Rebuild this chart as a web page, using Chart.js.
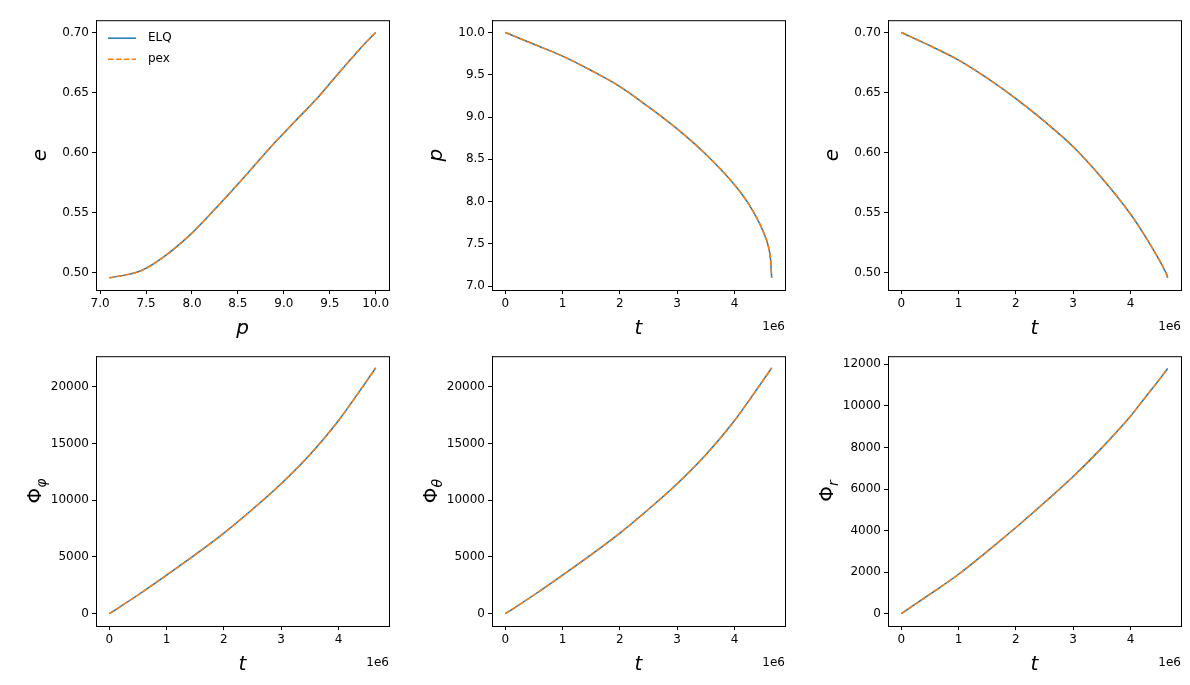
<!DOCTYPE html>
<html><head><meta charset="utf-8">
<script src="https://cdn.jsdelivr.net/npm/chart.js@4/dist/chart.umd.min.js"></script>
<style>
body{margin:0;background:#fff;width:1190px;height:685px;position:relative;overflow:hidden}
canvas{position:absolute}
</style></head><body>
<script>
// time in units of 1e6
const tVals = [0, 0.5, 1, 1.5, 2, 2.5, 3, 3.5, 4, 4.25, 4.5, 4.6, 4.63, 4.65];
const pVals = [10, 9.86, 9.72, 9.55, 9.36, 9.12, 8.86, 8.56, 8.2, 7.97, 7.65, 7.45, 7.32, 7.1];
const eVals = [0.700, 0.689, 0.677, 0.662, 0.645, 0.626, 0.605, 0.579, 0.549, 0.531, 0.511, 0.502, 0.499, 0.496];
const phiPhiVals = [0, 1650, 3400, 5200, 7100, 9200, 11450, 14000, 17000, 18750, 20550, 21280, 21500, 21650];
const phiThetaVals = [0, 1650, 3400, 5200, 7100, 9200, 11450, 14000, 17000, 18750, 20550, 21280, 21500, 21650];
const phiRVals = [0, 940, 1900, 3000, 4150, 5350, 6600, 7980, 9500, 10380, 11250, 11620, 11730, 11800];
const seriesNames = ['ELQ', 'pex'];

const tTicks = [0, 1, 2, 3, 4];
const pTicks = [7.0, 7.5, 8.0, 8.5, 9.0, 9.5, 10.0];
const eTicks = [0.50, 0.55, 0.60, 0.65, 0.70];
const phiTicks = [0, 5000, 10000, 15000, 20000];
const phiRTicks = [0, 2000, 4000, 6000, 8000, 10000, 12000];

const font = 'DejaVu Sans';
const cols = [[96, 389], [492, 785], [888, 1181]];
const rows = [[10, 290], [346, 626]];

function pts(xs, ys) { return xs.map((x, i) => ({x: x, y: ys[i]})); }

// panel box, math axis labels, 1e6 offset text, legend
const decoPlugin = {
  id: 'deco',
  afterDraw(chart) {
    const c = chart.ctx, a = chart.chartArea, o = chart.options.deco;
    c.save();
    c.strokeStyle = '#000'; c.lineWidth = 1;
    c.strokeRect(a.left + 0.5, a.top + 0.5, a.right - a.left, a.bottom - a.top);
    c.fillStyle = '#000';
    c.font = 'italic 20px ' + font; c.textAlign = 'center'; c.textBaseline = 'alphabetic';
    c.fillText(o.xl, (a.left + a.right) / 2, a.bottom + 44);
    c.save();
    c.translate(a.left - 50 - (o.ylOff || 0), (a.top + a.bottom) / 2);
    c.rotate(-Math.PI / 2);
    if (o.sub) {
      c.font = '20px ' + font; c.textAlign = 'left';
      const w1 = c.measureText('Φ').width;
      c.font = 'italic 14px ' + font;
      const w2 = c.measureText(o.sub).width;
      const x0 = -(w1 + w2) / 2;
      c.font = '20px ' + font; c.fillText('Φ', x0, 0);
      c.font = 'italic 14px ' + font; c.fillText(o.sub, x0 + w1, 5);
    } else {
      c.fillText(o.yl, 0, 0);
    }
    c.restore();
    if (o.off) {
      c.font = '12px ' + font; c.textAlign = 'right';
      c.fillText('1e6', a.right, a.bottom + 40);
    }
    if (o.legend) {
      c.font = '12px ' + font; c.textAlign = 'left'; c.textBaseline = 'middle';
      [['#1f77b4', []], ['#ff7f0e', [5.5, 2.4]]].forEach((s, i) => {
        const y = a.top + 18 + i * 21;
        c.strokeStyle = s[0]; c.lineWidth = 1.5; c.setLineDash(s[1]);
        c.beginPath(); c.moveTo(a.left + 12, y); c.lineTo(a.left + 40, y); c.stroke();
        c.fillText(seriesNames[i], a.left + 52, y);
      });
    }
    c.restore();
  }
};

function axis(min, max, ticks, fmt, isX) {
  return {
    type: 'linear', min: min, max: max,
    afterBuildTicks: s => { s.ticks = ticks.map(v => ({value: v})); },
    afterFit: s => { if (isX) s.height = 55; else s.width = 70; },
    grid: {drawOnChartArea: false, tickLength: 4, tickColor: '#000', tickWidth: 1},
    border: {color: '#000', width: 1},
    ticks: {color: '#000', font: {family: font, size: 12}, padding: 3, maxRotation: 0,
            callback: v => fmt(v)}
  };
}

function panel(r, ci, xs, ys, xa, ya, deco) {
  const cv = document.createElement('canvas');
  const [x0, x1] = cols[ci], [y0, y1] = rows[r];
  const w = x1 - x0 + 78, h = y1 - y0 + 55;
  cv.style.left = (x0 - 70) + 'px'; cv.style.top = y0 + 'px';
  cv.style.width = w + 'px'; cv.style.height = h + 'px';
  cv.width = w; cv.height = h;
  document.body.appendChild(cv);
  new Chart(cv, {
    type: 'scatter',
    data: {datasets: [
      {data: pts(xs, ys), showLine: true, borderColor: '#1f77b4', borderWidth: 1.5, pointRadius: 0, cubicInterpolationMode: 'monotone', order: 1},
      {data: pts(xs, ys), showLine: true, borderColor: '#ff7f0e', borderWidth: 1.5, borderDash: [5.5, 2.4], pointRadius: 0, cubicInterpolationMode: 'monotone', order: 0}
    ]},
    options: {
      responsive: false, animation: false,
      layout: {padding: {top: 0, right: 8, left: 0, bottom: 0}},
      plugins: {legend: {display: false}, tooltip: {enabled: false}},
      scales: {x: xa, y: ya},
      deco: deco
    },
    plugins: [decoPlugin]
  });
}

const f1 = v => v.toFixed(1), f2 = v => v.toFixed(2), f0 = v => String(Math.round(v));
const tAxis = () => axis(-0.2325, 4.8825, tTicks, f0, true);

panel(0, 0, pVals, eVals, axis(6.955, 10.145, pTicks, f1, true), axis(0.4858, 0.7102, eTicks, f2, false), {xl: 'p', yl: 'e', legend: true});
panel(0, 1, tVals, pVals, tAxis(), axis(6.955, 10.145, pTicks, f1, false), {xl: 't', yl: 'p', off: true});
panel(0, 2, tVals, eVals, tAxis(), axis(0.4858, 0.7102, eTicks, f2, false), {xl: 't', yl: 'e', off: true});
panel(1, 0, tVals, phiPhiVals, tAxis(), axis(-1080, 22680, phiTicks, f0, false), {xl: 't', sub: 'φ', off: true, ylOff: 5});
panel(1, 1, tVals, phiThetaVals, tAxis(), axis(-1080, 22680, phiTicks, f0, false), {xl: 't', sub: 'θ', off: true, ylOff: 5});
panel(1, 2, tVals, phiRVals, tAxis(), axis(-590, 12390, phiRTicks, f0, false), {xl: 't', sub: 'r', off: true, ylOff: 5});
</script>
</body></html>
